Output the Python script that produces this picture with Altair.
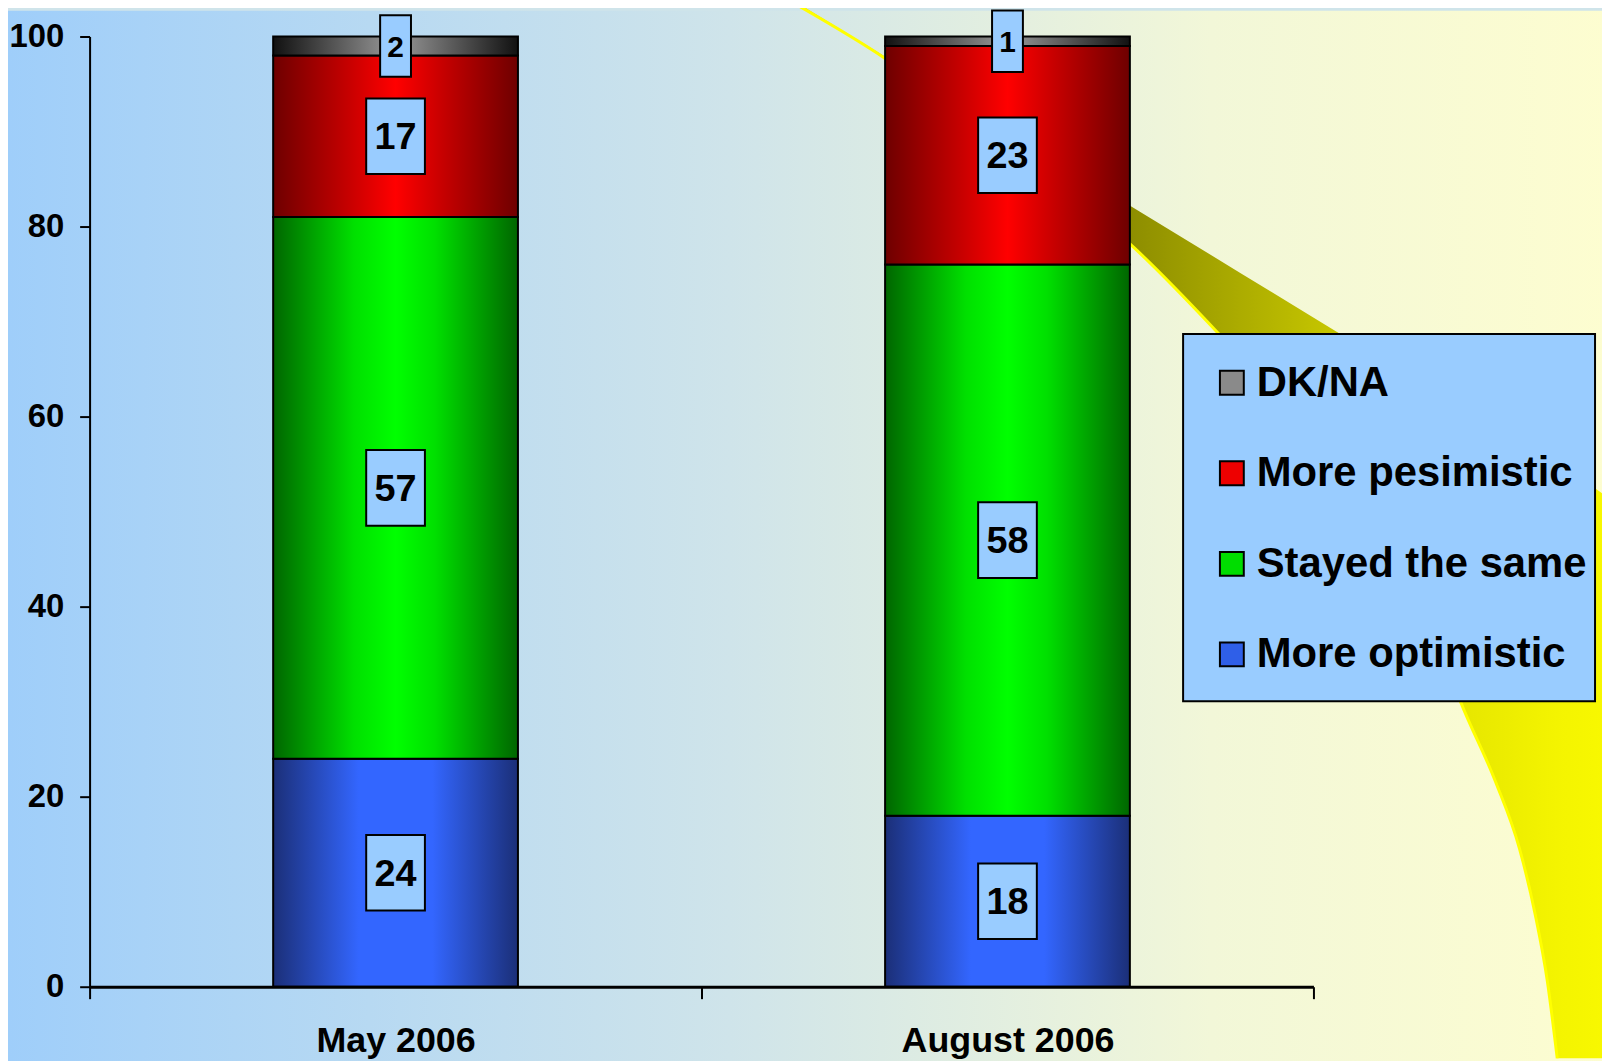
import altair as alt
import pandas as pd

# ---------------- data ----------------
periods = ["May 2006", "August 2006"]
categories = ["More optimistic", "Stayed the same", "More pesimistic", "DK/NA"]  # bottom -> top
optimistic = [24, 18]
same = [57, 58]
pesimistic = [17, 23]
dkna = [2, 1]
legend_order = ["DK/NA", "More pesimistic", "Stayed the same", "More optimistic"]
legend_colors = ["#8a8a8a", "#ee0000", "#00dd00", "#2f5fe8"]

series = [optimistic, same, pesimistic, dkna]
rows = []
for i, p in enumerate(periods):
    for order, (cat, vals) in enumerate(zip(categories, series)):
        rows.append({"period": p, "category": cat, "value": vals[i], "order": order})
df = pd.DataFrame(rows)

# decorative swoosh outline (page pixels)
sw_y = [0, 55, 150, 242, 333, 420, 493, 600, 703, 783, 850, 917, 983, 1061]
sw_left = [797, 888, 1013, 1135, 1225, 1303, 1361, 1431, 1468, 1503, 1527, 1543, 1555, 1565]
sw_right = [801, 891, 1047, 1198, 1347, 1490, 1610, 1700, 1700, 1700, 1700, 1700, 1700, 1700]
PX, PY = 90, 34
sw = pd.DataFrame({
    "py": [y - PY for y in sw_y],
    "pl": [x - PX for x in sw_left],
    "pr": [x - PX for x in sw_right],
})

FONT = "Liberation Sans"


def hgrad(stops):
    return {
        "gradient": "linear", "x1": 0, "x2": 1, "y1": 0, "y2": 0,
        "stops": [{"offset": o, "color": c} for o, c in stops],
    }


bar_grads = {
    "More optimistic": hgrad([(0, "#1b2f78"), (0.35, "#3366ff"), (0.65, "#3366ff"), (1, "#1b2f78")]),
    "Stayed the same": hgrad([(0, "#006600"), (0.33, "#00e000"), (0.5, "#00ff00"), (0.66, "#00e000"), (1, "#006600")]),
    "More pesimistic": hgrad([(0, "#6e0000"), (0.3, "#c40000"), (0.5, "#ff0000"), (0.7, "#c40000"), (1, "#6e0000")]),
    "DK/NA": hgrad([(0, "#111111"), (0.5, "#9a9a9a"), (1, "#111111")]),
}

# ---------------- encodings ----------------
x_enc = alt.X(
    "period:N",
    sort=periods,
    scale=alt.Scale(domain=periods, paddingInner=0, paddingOuter=0),
    axis=alt.Axis(
        title=None, labelAngle=0, tickBand="extent", zindex=1, labelLimit=500,
        domainColor="black", domainWidth=3, tickColor="black", tickWidth=2, tickSize=12,
        labelFont=FONT, labelFontSize=36, labelFontWeight="bold", labelColor="black",
        labelPadding=25,
    ),
)
y_scale = alt.Scale(domain=[0, 100], nice=False)
y_axis = alt.Axis(
    title=None, values=[0, 20, 40, 60, 80, 100], grid=False, zindex=1,
    domainColor="black", domainWidth=2, tickColor="black", tickWidth=2, tickSize=10,
    labelFont=FONT, labelFontSize=33, labelFontWeight="bold", labelColor="black",
    labelPadding=16,
)

base = alt.Chart(df).transform_stack(
    stack="value", groupby=["period"], as_=["y0", "y1"],
    sort=[alt.SortField("order", order="ascending")],
).transform_calculate(mid="(datum.y0 + datum.y1) / 2")

# background
bg = alt.Chart(pd.DataFrame({"a": [0]})).mark_rect(
    color=hgrad([(0, "#9fcefa"), (0.45, "#cfe4ea"), (0.75, "#f2f7d8"), (1, "#fdfdd0")])
).encode(
    x=alt.value(-82), x2=alt.value(1530), y=alt.value(-26), y2=alt.value(1040)
)

swoosh = alt.Chart(sw).mark_area(
    orient="horizontal", interpolate="monotone",
    color=hgrad([(0, "#e0e000"), (0.37, "#8c8c00"), (0.61, "#c8c800"),
                 (0.74, "#e6e600"), (0.85, "#f4f400"), (1, "#ffff00")]),
).encode(
    y=alt.Y("py:Q", scale=None, axis=None),
    x=alt.X("pl:Q", scale=None, axis=None),
    x2="pr:Q",
)
swoosh_line = alt.Chart(sw).mark_line(
    color="#ffff00", strokeWidth=3, interpolate="monotone"
).encode(
    y=alt.Y("py:Q", scale=None, axis=None),
    x=alt.X("pl:Q", scale=None, axis=None),
    order=alt.Order("py:Q"),
)

# legend box (decoration behind the legend entries)
legend_box = alt.Chart(pd.DataFrame({"a": [0]})).mark_rect(
    fill="#99ccff", stroke="black", strokeWidth=2
).encode(
    x=alt.value(1189 - PX), x2=alt.value(1603 - PX),
    y=alt.value(333 - PY), y2=alt.value(702 - PY),
)

legend_layer = base.mark_bar(opacity=0, size=246).encode(
    x=x_enc,
    y=alt.Y("y0:Q", scale=y_scale, axis=y_axis),
    y2="y1:Q",
    color=alt.Color(
        "category:N",
        scale=alt.Scale(domain=legend_order, range=legend_colors),
        legend=alt.Legend(
            title=None, orient="none", legendX=1217 - PX, legendY=361 - PY,
            padding=0, rowPadding=49,
            symbolType="square", symbolSize=576, symbolStrokeColor="black",
            symbolStrokeWidth=2, symbolOpacity=1, labelOffset=4,
            labelFont=FONT, labelFontSize=42, labelFontWeight="bold",
            labelColor="black", labelLimit=600,
        ),
    ),
)

bar_layers = []
for cat in categories:
    bar_layers.append(
        base.transform_filter(alt.datum.category == cat).mark_bar(
            color=bar_grads[cat], stroke="black", strokeWidth=2, size=246
        ).encode(
            x=x_enc,
            y=alt.Y("y0:Q", scale=y_scale, axis=y_axis),
            y2="y1:Q",
        )
    )

box_big = base.transform_filter("datum.value >= 10").mark_rect(
    width=59, height=76, fill="#99ccff", stroke="black", strokeWidth=2
).encode(x=x_enc, y=alt.Y("mid:Q", scale=y_scale, axis=y_axis))
box_small = base.transform_filter("datum.value < 10").mark_rect(
    width=31, height=62, fill="#99ccff", stroke="black", strokeWidth=2
).encode(x=x_enc, y=alt.Y("mid:Q", scale=y_scale, axis=y_axis))

txt_big = base.transform_filter("datum.value >= 10").mark_text(
    font=FONT, fontSize=38, fontWeight="bold", color="black", baseline="middle", dy=2
).encode(x=x_enc, y=alt.Y("mid:Q", scale=y_scale, axis=y_axis), text="value:Q")
txt_small = base.transform_filter("datum.value < 10").mark_text(
    font=FONT, fontSize=30, fontWeight="bold", color="black", baseline="middle", dy=2
).encode(x=x_enc, y=alt.Y("mid:Q", scale=y_scale, axis=y_axis), text="value:Q")

chart = alt.layer(
    bg, swoosh, swoosh_line, legend_box, legend_layer, *bar_layers,
    box_big, box_small, txt_big, txt_small
).properties(
    width=1230, height=955,
    autosize=alt.AutoSizeParams(type="none"),
    padding={"left": 82, "top": 26, "right": 290, "bottom": 72},
    background="#cfe4ea",
).configure_view(strokeWidth=0)

chart.save("out.html", embed_options={"renderer": "svg", "actions": False})
